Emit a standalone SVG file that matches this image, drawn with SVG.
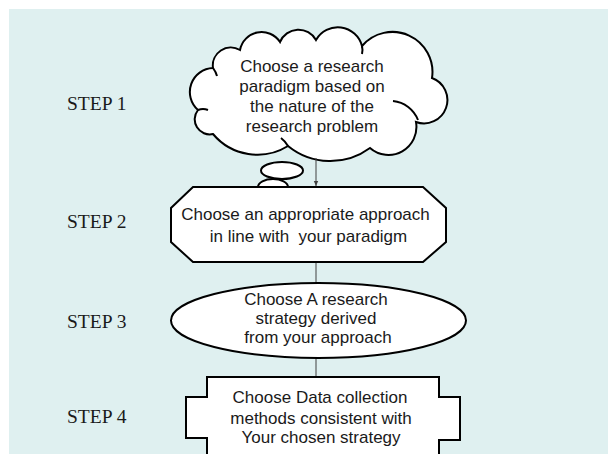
<svg xmlns="http://www.w3.org/2000/svg" width="608" height="454" viewBox="0 0 608 454">
<defs>
<style>
.shape{fill:#ffffff;stroke:#000000;stroke-width:2;stroke-linejoin:miter}
.tick{fill:none;stroke:#000000;stroke-width:2}
.txt{font-family:"Liberation Sans",Arial,sans-serif;font-size:17px;fill:#1a1a1a;text-anchor:middle;white-space:pre}
.step{font-family:"Liberation Serif","Times New Roman",serif;font-size:19.5px;fill:#1a1a1a}
.conn{stroke:#404040;stroke-width:1;fill:none}
</style>
<marker id="arr" markerWidth="6" markerHeight="6" refX="5" refY="3" orient="auto" markerUnits="userSpaceOnUse">
<path d="M0,0.8 L5,3 L0,5.2 Z" fill="#404040"/>
</marker>
</defs>
<rect x="0" y="0" width="608" height="454" fill="#ffffff"/>
<rect x="9" y="9" width="599" height="445" fill="#DFF0F0"/>

<g id="labels">
<text class="step" x="67" y="110">STEP 1</text>
<text class="step" x="67" y="228">STEP 2</text>
<text class="step" x="67" y="328">STEP 3</text>
<text class="step" x="67" y="423">STEP 4</text>
</g>

<g id="step1">
<path class="shape" d="M198,110 A24,24 0 0 1 213,68 A18,18 0 0 1 240,50 A22,22 0 0 1 280,42 A20,20 0 0 1 316,40 A25,25 0 0 1 362,46 A40,40 0 0 1 432,78 A23.4,23.4 0 0 1 416,122 A28,28 0 0 1 370,148 A67,67 0 0 1 288,146 A58,58 0 0 1 213,134 A15,15 0 0 1 198,110 Z"/>
<path class="tick" d="M393,101 A30,30 0 0 1 418,120"/>
<path class="tick" d="M288,146 Q285,141 281,138"/>
<path class="tick" d="M213,68 Q216,72 217,76"/>
<path class="tick" d="M362,46 Q363,50 362,54"/>
<path class="tick" d="M198,110 Q203,108 208,110"/>
<text class="txt" x="312" y="72">Choose a research</text>
<text class="txt" x="312" y="92">paradigm based on</text>
<text class="txt" x="312" y="112">the nature of the</text>
<text class="txt" x="312" y="132">research problem</text>
</g>

<g id="bubbles">
<ellipse class="shape" cx="282" cy="170.5" rx="21" ry="8.5"/>
<ellipse class="shape" cx="273" cy="187" rx="15" ry="8"/>
</g>

<g id="connectors">
<line class="conn" x1="316" y1="158" x2="316" y2="186" marker-end="url(#arr)"/>
<line class="conn" x1="316" y1="262" x2="316" y2="283"/>
<line class="conn" x1="316" y1="358" x2="316" y2="377"/>
</g>

<g id="step2">
<polygon class="shape" points="193,187 423,187 446,208 446,242 423,262 193,262 171,242 171,208"/>
<text class="txt" x="305.5" y="220">Choose an appropriate approach</text>
<text class="txt" x="308.5" y="242" xml:space="preserve">in line with  your paradigm</text>
</g>

<g id="step3">
<ellipse class="shape" cx="318.5" cy="320.5" rx="147.5" ry="37.5"/>
<text class="txt" x="316" y="305">Choose A research</text>
<text class="txt" x="316" y="324">strategy derived</text>
<text class="txt" x="318" y="343">from your approach</text>
</g>

<g id="step4">
<polygon class="shape" points="207,377 439,377 439,397 460,397 460,440 439,440 439,470 207,470 207,438 186,438 186,397 207,397"/>
<text class="txt" x="320" y="403">Choose Data collection</text>
<text class="txt" x="321" y="424">methods consistent with</text>
<text class="txt" x="321" y="443">Your chosen strategy</text>
</g>
</svg>
